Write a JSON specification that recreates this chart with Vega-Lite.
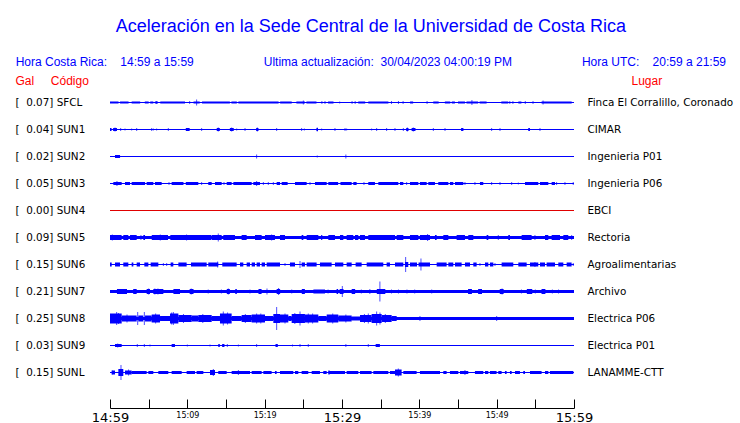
{
  "$schema": "https://vega.github.io/schema/vega-lite/v6.json",
  "autosize": "none",
  "width": 464,
  "height": 297,
  "padding": {"left": 110, "top": 89, "right": 166, "bottom": 37},
  "background": "white",
  "config": {"view": {"stroke": null}},
  "title": {
    "text": "Aceleración en la Sede Central de la Universidad de Costa Rica",
    "subtitle": "Hora Costa Rica:\u00a0\u00a0\u00a0\u00a014:59 a 15:59\u00a0\u00a0\u00a0\u00a0\u00a0\u00a0\u00a0\u00a0\u00a0\u00a0\u00a0\u00a0\u00a0\u00a0\u00a0\u00a0\u00a0\u00a0\u00a0\u00a0\u00a0Ultima actualización:\u00a0\u00a030/04/2023 04:00:19 PM\u00a0\u00a0\u00a0\u00a0\u00a0\u00a0\u00a0\u00a0\u00a0\u00a0\u00a0\u00a0\u00a0\u00a0\u00a0\u00a0\u00a0\u00a0\u00a0\u00a0\u00a0Hora UTC:\u00a0\u00a0\u00a0\u00a020:59 a 21:59",
    "anchor": "middle",
    "frame": "bounds",
    "dx": -3,
    "font": "Liberation Sans",
    "fontSize": 18,
    "fontWeight": "normal",
    "color": "#0000ff",
    "subtitleFont": "Liberation Sans",
    "subtitleFontSize": 12,
    "subtitleColor": "#0000ff",
    "subtitlePadding": 21,
    "offset": 6
  },
  "datasets": {
    "stations": [
      {"s": "SFCL", "L": "[\u00a0\u00a00.07] SFCL", "P": "Finca El Corralillo, Coronado"},
      {"s": "SUN1", "L": "[\u00a0\u00a00.04] SUN1", "P": "CIMAR"},
      {"s": "SUN2", "L": "[\u00a0\u00a00.02] SUN2", "P": "Ingenieria P01"},
      {"s": "SUN3", "L": "[\u00a0\u00a00.05] SUN3", "P": "Ingenieria P06"},
      {"s": "SUN4", "L": "[\u00a0\u00a00.00] SUN4", "P": "EBCI"},
      {"s": "SUN5", "L": "[\u00a0\u00a00.09] SUN5", "P": "Rectoria"},
      {"s": "SUN6", "L": "[\u00a0\u00a00.15] SUN6", "P": "Agroalimentarias"},
      {"s": "SUN7", "L": "[\u00a0\u00a00.21] SUN7", "P": "Archivo"},
      {"s": "SUN8", "L": "[\u00a0\u00a00.25] SUN8", "P": "Electrica P06"},
      {"s": "SUN9", "L": "[\u00a0\u00a00.03] SUN9", "P": "Electrica P01"},
      {"s": "SUNL", "L": "[\u00a0\u00a00.15] SUNL", "P": "LANAMME-CTT"}
    ],
    "seg": [
      {"s":"SFCL","t":0,"u":60,"a":1},{"s":"SUN1","t":0,"u":60,"a":1},{"s":"SUN2","t":0,"u":60,"a":1},{"s":"SUN3","t":0,"u":60,"a":1},{"s":"SUN4","t":0,"u":60,"a":1},{"s":"SUN5","t":0,"u":60,"a":3},{"s":"SUN6","t":0,"u":60,"a":1},{"s":"SUN7","t":0,"u":60,"a":3},{"s":"SUN8","t":0,"u":60,"a":3},{"s":"SUN9","t":0,"u":60,"a":1},{"s":"SUNL","t":0,"u":60,"a":1},
      {"s":"SFCL","t":0,"u":1.1,"a":2},{"s":"SFCL","t":1.3,"u":2.4,"a":2},{"s":"SFCL","t":2.8,"u":3.9,"a":2},{"s":"SFCL","t":4.5,"u":5.0,"a":2},{"s":"SFCL","t":5.2,"u":5.6,"a":2},{"s":"SFCL","t":5.8,"u":6.2,"a":2},{"s":"SFCL","t":6.5,"u":9.7,"a":2},{"s":"SFCL","t":10.8,"u":11.6,"a":2},{"s":"SFCL","t":11.9,"u":15.5,"a":2},{"s":"SFCL","t":15.7,"u":16.4,"a":2},{"s":"SFCL","t":16.6,"u":21.8,"a":2},{"s":"SFCL","t":22.0,"u":23.5,"a":2},{"s":"SFCL","t":24.1,"u":25.2,"a":2},{"s":"SFCL","t":25.4,"u":26.7,"a":2},{"s":"SFCL","t":28.2,"u":28.9,"a":2},{"s":"SFCL","t":32.1,"u":33.0,"a":2},{"s":"SFCL","t":33.4,"u":36.0,"a":2},{"s":"SFCL","t":38.8,"u":39.2,"a":2},{"s":"SFCL","t":41.8,"u":42.5,"a":2},{"s":"SFCL","t":43.3,"u":44.0,"a":2},{"s":"SFCL","t":44.2,"u":44.6,"a":2},{"s":"SFCL","t":45.0,"u":45.9,"a":2},{"s":"SFCL","t":46.1,"u":47.6,"a":2},{"s":"SFCL","t":47.8,"u":48.7,"a":2},{"s":"SFCL","t":50.6,"u":51.5,"a":2},{"s":"SFCL","t":52.8,"u":53.2,"a":2},{"s":"SFCL","t":55.8,"u":59.7,"a":2},
      {"s":"SUN1","t":0,"u":0.2,"a":3},{"s":"SUN1","t":0.4,"u":0.9,"a":3},{"s":"SUN1","t":9.8,"u":10.3,"a":3},{"s":"SUN1","t":13.8,"u":14.2,"a":3},{"s":"SUN1","t":15.5,"u":16.0,"a":3},{"s":"SUN1","t":18.9,"u":19.2,"a":3},{"s":"SUN1","t":26.7,"u":26.9,"a":3},{"s":"SUN1","t":38.3,"u":38.6,"a":3},{"s":"SUN1","t":39.0,"u":39.5,"a":3},{"s":"SUN1","t":45.4,"u":45.7,"a":3},{"s":"SUN1","t":54.1,"u":54.3,"a":3},
      {"s":"SUN2","t":0.65,"u":1.3,"a":3},
      {"s":"SUN3","t":0.43,"u":1.51,"a":3},{"s":"SUN3","t":1.94,"u":2.59,"a":3},{"s":"SUN3","t":2.8,"u":4.53,"a":3},{"s":"SUN3","t":4.74,"u":5.6,"a":3},{"s":"SUN3","t":5.82,"u":6.68,"a":3},{"s":"SUN3","t":7.97,"u":9.5,"a":3},{"s":"SUN3","t":9.8,"u":11.42,"a":3},{"s":"SUN3","t":12.71,"u":13.15,"a":3},{"s":"SUN3","t":13.58,"u":14.44,"a":3},{"s":"SUN3","t":15.09,"u":15.73,"a":3},{"s":"SUN3","t":15.95,"u":18.32,"a":3},{"s":"SUN3","t":18.53,"u":19.4,"a":3},{"s":"SUN3","t":21.55,"u":21.98,"a":3},{"s":"SUN3","t":22.2,"u":22.97,"a":3},{"s":"SUN3","t":23.92,"u":25.43,"a":3},{"s":"SUN3","t":26.51,"u":28.02,"a":3},{"s":"SUN3","t":28.23,"u":29.5,"a":3},{"s":"SUN3","t":29.8,"u":31.25,"a":3},{"s":"SUN3","t":31.46,"u":31.89,"a":3},{"s":"SUN3","t":33.4,"u":34.26,"a":3},{"s":"SUN3","t":34.7,"u":37.28,"a":3},{"s":"SUN3","t":37.5,"u":37.93,"a":3},{"s":"SUN3","t":38.79,"u":39.87,"a":3},{"s":"SUN3","t":40.08,"u":40.95,"a":3},{"s":"SUN3","t":41.16,"u":42.02,"a":3},{"s":"SUN3","t":42.45,"u":43.75,"a":3},{"s":"SUN3","t":43.96,"u":44.39,"a":3},{"s":"SUN3","t":44.61,"u":45.69,"a":3},{"s":"SUN3","t":47.84,"u":48.27,"a":3},{"s":"SUN3","t":53.66,"u":55.38,"a":3},{"s":"SUN3","t":55.6,"u":56.68,"a":3},{"s":"SUN3","t":57.11,"u":57.54,"a":3},
      {"s":"SUN5","t":0,"u":1.5,"a":5},{"s":"SUN5","t":1.72,"u":2.37,"a":5},{"s":"SUN5","t":2.59,"u":3.45,"a":5},{"s":"SUN5","t":4.31,"u":4.53,"a":5},{"s":"SUN5","t":5.4,"u":7.5,"a":5},{"s":"SUN5","t":7.8,"u":13.1,"a":5},{"s":"SUN5","t":13.15,"u":14.44,"a":5},{"s":"SUN5","t":14.65,"u":16.16,"a":5},{"s":"SUN5","t":17.02,"u":17.67,"a":5},{"s":"SUN5","t":18.75,"u":19.61,"a":5},{"s":"SUN5","t":20.04,"u":21.33,"a":5},{"s":"SUN5","t":21.98,"u":22.63,"a":5},{"s":"SUN5","t":24.78,"u":25.0,"a":5},{"s":"SUN5","t":25.43,"u":26.94,"a":5},{"s":"SUN5","t":27.3,"u":27.45,"a":5},{"s":"SUN5","t":28.23,"u":29.09,"a":5},{"s":"SUN5","t":29.74,"u":30.17,"a":5},{"s":"SUN5","t":30.6,"u":31.46,"a":5},{"s":"SUN5","t":31.68,"u":32.11,"a":5},{"s":"SUN5","t":32.33,"u":32.97,"a":5},{"s":"SUN5","t":33.4,"u":36.85,"a":5},{"s":"SUN5","t":37.07,"u":37.93,"a":5},{"s":"SUN5","t":38.79,"u":39.87,"a":5},{"s":"SUN5","t":40.08,"u":41.38,"a":5},{"s":"SUN5","t":42.02,"u":42.24,"a":5},{"s":"SUN5","t":43.1,"u":43.75,"a":5},{"s":"SUN5","t":44.82,"u":45.9,"a":5},{"s":"SUN5","t":46.33,"u":46.98,"a":5},{"s":"SUN5","t":48.7,"u":48.92,"a":5},{"s":"SUN5","t":51.5,"u":51.72,"a":5},{"s":"SUN5","t":53.23,"u":54.52,"a":5},{"s":"SUN5","t":56.25,"u":56.68,"a":5},{"s":"SUN5","t":57.11,"u":58.19,"a":5},{"s":"SUN5","t":58.62,"u":59.26,"a":5},
      {"s":"SUN6","t":0,"u":0.22,"a":4},{"s":"SUN6","t":0.65,"u":1.29,"a":4},{"s":"SUN6","t":1.72,"u":2.37,"a":4},{"s":"SUN6","t":2.8,"u":3.02,"a":4},{"s":"SUN6","t":3.45,"u":3.88,"a":4},{"s":"SUN6","t":4.44,"u":4.96,"a":4},{"s":"SUN6","t":5.26,"u":6.25,"a":4},{"s":"SUN6","t":7.84,"u":8.19,"a":4},{"s":"SUN6","t":8.84,"u":9.91,"a":4},{"s":"SUN6","t":10.47,"u":12.5,"a":4},{"s":"SUN6","t":12.71,"u":14.0,"a":4},{"s":"SUN6","t":14.52,"u":16.38,"a":4},{"s":"SUN6","t":16.81,"u":17.24,"a":4},{"s":"SUN6","t":17.67,"u":18.1,"a":4},{"s":"SUN6","t":18.32,"u":18.75,"a":4},{"s":"SUN6","t":18.96,"u":19.4,"a":4},{"s":"SUN6","t":19.61,"u":20.04,"a":4},{"s":"SUN6","t":20.26,"u":21.98,"a":4},{"s":"SUN6","t":23.27,"u":23.92,"a":4},{"s":"SUN6","t":24.78,"u":25.21,"a":4},{"s":"SUN6","t":25.43,"u":26.72,"a":4},{"s":"SUN6","t":27.15,"u":28.66,"a":4},{"s":"SUN6","t":29.09,"u":30.17,"a":4},{"s":"SUN6","t":30.6,"u":31.25,"a":4},{"s":"SUN6","t":31.76,"u":32.54,"a":4},{"s":"SUN6","t":33.19,"u":35.34,"a":4},{"s":"SUN6","t":35.77,"u":36.2,"a":4},{"s":"SUN6","t":36.85,"u":37.93,"a":4},{"s":"SUN6","t":38.14,"u":38.57,"a":5},{"s":"SUN6","t":38.79,"u":39.7,"a":4},{"s":"SUN6","t":39.9,"u":41.38,"a":4},{"s":"SUN6","t":42.24,"u":43.53,"a":4},{"s":"SUN6","t":43.75,"u":44.39,"a":4},{"s":"SUN6","t":44.61,"u":45.47,"a":4},{"s":"SUN6","t":45.9,"u":46.55,"a":4},{"s":"SUN6","t":46.98,"u":47.41,"a":4},{"s":"SUN6","t":48.49,"u":48.92,"a":4},{"s":"SUN6","t":49.13,"u":49.57,"a":4},{"s":"SUN6","t":50.64,"u":52.15,"a":4},{"s":"SUN6","t":52.8,"u":53.88,"a":4},{"s":"SUN6","t":54.31,"u":55.38,"a":4},{"s":"SUN6","t":55.6,"u":56.25,"a":4},{"s":"SUN6","t":56.46,"u":57.54,"a":4},{"s":"SUN6","t":57.97,"u":58.62,"a":4},{"s":"SUN6","t":59.05,"u":59.69,"a":4},
      {"s":"SUN7","t":0.9,"u":2.2,"a":5},{"s":"SUN7","t":3.0,"u":3.45,"a":5},{"s":"SUN7","t":4.74,"u":5.17,"a":5},{"s":"SUN7","t":5.6,"u":6.9,"a":5},{"s":"SUN7","t":8.2,"u":9.05,"a":5},{"s":"SUN7","t":10.3,"u":10.8,"a":5},{"s":"SUN7","t":15.1,"u":15.5,"a":5},{"s":"SUN7","t":16.2,"u":16.4,"a":5},{"s":"SUN7","t":19.2,"u":19.6,"a":5},{"s":"SUN7","t":21.55,"u":22.0,"a":5},{"s":"SUN7","t":24.8,"u":25.2,"a":5},{"s":"SUN7","t":26.3,"u":27.8,"a":4},{"s":"SUN7","t":29.3,"u":29.5,"a":5},{"s":"SUN7","t":29.7,"u":30.2,"a":5},{"s":"SUN7","t":31.25,"u":31.7,"a":5},{"s":"SUN7","t":34.5,"u":35.6,"a":5},{"s":"SUN7","t":46.3,"u":46.8,"a":5},{"s":"SUN7","t":47.6,"u":48.1,"a":5},{"s":"SUN7","t":50.4,"u":50.9,"a":5},{"s":"SUN7","t":53.9,"u":54.6,"a":5},{"s":"SUN7","t":55.8,"u":56.3,"a":5},
      {"s":"SUN8","t":0,"u":1.51,"a":10},{"s":"SUN8","t":1.51,"u":3.45,"a":6},{"s":"SUN8","t":3.66,"u":4.31,"a":6},{"s":"SUN8","t":4.53,"u":5.39,"a":6},{"s":"SUN8","t":5.39,"u":6.47,"a":8},{"s":"SUN8","t":6.47,"u":7.76,"a":5},{"s":"SUN8","t":7.76,"u":8.84,"a":10},{"s":"SUN8","t":8.84,"u":10.56,"a":7},{"s":"SUN8","t":10.56,"u":11.42,"a":6},{"s":"SUN8","t":11.42,"u":13.15,"a":7},{"s":"SUN8","t":13.15,"u":14.22,"a":5},{"s":"SUN8","t":14.22,"u":15.73,"a":10},{"s":"SUN8","t":15.73,"u":17.02,"a":5},{"s":"SUN8","t":17.02,"u":18.32,"a":7},{"s":"SUN8","t":18.32,"u":20.04,"a":8},{"s":"SUN8","t":20.04,"u":21.12,"a":5},{"s":"SUN8","t":21.12,"u":21.98,"a":9},{"s":"SUN8","t":21.98,"u":23.06,"a":8},{"s":"SUN8","t":23.06,"u":23.49,"a":5},{"s":"SUN8","t":23.49,"u":25.21,"a":9},{"s":"SUN8","t":25.21,"u":26.94,"a":8},{"s":"SUN8","t":26.94,"u":28.02,"a":5},{"s":"SUN8","t":28.02,"u":29.52,"a":8},{"s":"SUN8","t":29.52,"u":31.25,"a":6},{"s":"SUN8","t":31.25,"u":32.33,"a":4},{"s":"SUN8","t":32.33,"u":33.83,"a":7},{"s":"SUN8","t":33.83,"u":35.13,"a":9},{"s":"SUN8","t":35.13,"u":36.42,"a":7},{"s":"SUN8","t":36.42,"u":37.07,"a":5},
      {"s":"SUN9","t":0.65,"u":1.51,"a":3},{"s":"SUN9","t":7.97,"u":8.4,"a":3},{"s":"SUN9","t":14.0,"u":14.2,"a":3},{"s":"SUN9","t":14.5,"u":14.8,"a":3},{"s":"SUN9","t":21.4,"u":21.7,"a":3},{"s":"SUN9","t":34.35,"u":34.9,"a":3},
      {"s":"SUNL","t":0.22,"u":0.65,"a":4},{"s":"SUNL","t":1.08,"u":1.72,"a":7},{"s":"SUNL","t":1.94,"u":2.8,"a":4},{"s":"SUNL","t":2.8,"u":4.74,"a":3},{"s":"SUNL","t":4.96,"u":5.6,"a":3},{"s":"SUNL","t":6.25,"u":7.54,"a":3},{"s":"SUNL","t":7.97,"u":9.27,"a":3},{"s":"SUNL","t":9.91,"u":10.99,"a":3},{"s":"SUNL","t":11.2,"u":12.07,"a":3},{"s":"SUNL","t":12.93,"u":13.58,"a":5},{"s":"SUNL","t":14.0,"u":15.09,"a":3},{"s":"SUNL","t":15.73,"u":18.1,"a":3},{"s":"SUNL","t":18.32,"u":19.61,"a":3},{"s":"SUNL","t":19.83,"u":20.9,"a":3},{"s":"SUNL","t":21.33,"u":21.55,"a":3},{"s":"SUNL","t":21.98,"u":23.7,"a":3},{"s":"SUNL","t":23.92,"u":24.35,"a":3},{"s":"SUNL","t":24.78,"u":25.64,"a":3},{"s":"SUNL","t":26.08,"u":27.15,"a":3},{"s":"SUNL","t":27.58,"u":28.02,"a":3},{"s":"SUNL","t":28.23,"u":30.39,"a":3},{"s":"SUNL","t":30.6,"u":32.11,"a":3},{"s":"SUNL","t":32.33,"u":33.83,"a":3},{"s":"SUNL","t":34.05,"u":35.99,"a":3},{"s":"SUNL","t":36.2,"u":36.85,"a":3},{"s":"SUNL","t":36.85,"u":37.71,"a":6},{"s":"SUNL","t":37.93,"u":39.65,"a":3},{"s":"SUNL","t":40.08,"u":42.67,"a":3},{"s":"SUNL","t":43.1,"u":43.53,"a":3},{"s":"SUNL","t":43.96,"u":45.04,"a":3},{"s":"SUNL","t":45.26,"u":46.33,"a":3},{"s":"SUNL","t":47.19,"u":48.27,"a":3},{"s":"SUNL","t":48.49,"u":48.92,"a":3},{"s":"SUNL","t":49.13,"u":49.99,"a":3},{"s":"SUNL","t":50.21,"u":50.64,"a":3},{"s":"SUNL","t":51.07,"u":51.29,"a":3},{"s":"SUNL","t":51.72,"u":51.94,"a":3},{"s":"SUNL","t":52.37,"u":53.01,"a":3},{"s":"SUNL","t":53.44,"u":53.66,"a":3},{"s":"SUNL","t":54.31,"u":55.81,"a":3},{"s":"SUNL","t":56.25,"u":56.68,"a":3},{"s":"SUNL","t":56.89,"u":59.91,"a":3}
    ],
    "spk": [
      {"s":"SFCL","t":11.2,"a":6},{"s":"SFCL","t":46.8,"a":5},{"s":"SFCL","t":56.0,"a":4},{"s":"SFCL","t":10.3,"a":3},{"s":"SFCL","t":27.4,"a":3},{"s":"SFCL","t":27.8,"a":3},{"s":"SFCL","t":29.7,"a":2},{"s":"SFCL","t":31.3,"a":3},{"s":"SFCL","t":31.7,"a":3},{"s":"SFCL","t":36.4,"a":3},{"s":"SFCL","t":37.3,"a":3},{"s":"SFCL","t":37.9,"a":3},{"s":"SFCL","t":41.0,"a":3},{"s":"SFCL","t":52.1,"a":3},{"s":"SFCL","t":51.7,"a":3},{"s":"SFCL","t":53.7,"a":3},{"s":"SFCL","t":54.7,"a":3},{"s":"SFCL","t":25.0,"a":4},{"s":"SFCL","t":6.0,"a":3},
      {"s":"SUN1","t":0.65,"a":4},{"s":"SUN1","t":1.38,"a":3},{"s":"SUN1","t":1.94,"a":2},{"s":"SUN1","t":2.8,"a":2},{"s":"SUN1","t":3.45,"a":3},{"s":"SUN1","t":5.39,"a":3},{"s":"SUN1","t":5.6,"a":2},{"s":"SUN1","t":6.03,"a":2},{"s":"SUN1","t":7.54,"a":3},{"s":"SUN1","t":11.85,"a":3},{"s":"SUN1","t":14.0,"a":4},{"s":"SUN1","t":15.73,"a":4},{"s":"SUN1","t":16.38,"a":2},{"s":"SUN1","t":17.46,"a":3},{"s":"SUN1","t":19.05,"a":4},{"s":"SUN1","t":21.55,"a":3},{"s":"SUN1","t":24.78,"a":3},{"s":"SUN1","t":25.13,"a":2},{"s":"SUN1","t":26.8,"a":4},{"s":"SUN1","t":27.37,"a":2},{"s":"SUN1","t":29.09,"a":3},{"s":"SUN1","t":30.39,"a":3},{"s":"SUN1","t":30.6,"a":2},{"s":"SUN1","t":33.83,"a":2},{"s":"SUN1","t":34.48,"a":3},{"s":"SUN1","t":35.77,"a":3},{"s":"SUN1","t":36.85,"a":3},{"s":"SUN1","t":37.93,"a":3},{"s":"SUN1","t":38.45,"a":4},{"s":"SUN1","t":39.22,"a":4},{"s":"SUN1","t":41.81,"a":3},{"s":"SUN1","t":43.32,"a":3},{"s":"SUN1","t":45.56,"a":3},{"s":"SUN1","t":49.35,"a":3},{"s":"SUN1","t":50.43,"a":3},{"s":"SUN1","t":54.18,"a":3},{"s":"SUN1","t":55.6,"a":3},
      {"s":"SUN2","t":18.96,"a":4},{"s":"SUN2","t":26.8,"a":2},{"s":"SUN2","t":30.5,"a":4},
      {"s":"SUN3","t":0.9,"a":5},{"s":"SUN3","t":18.96,"a":5},{"s":"SUN3","t":7.63,"a":3},{"s":"SUN3","t":11.85,"a":3},{"s":"SUN3","t":14.74,"a":3},{"s":"SUN3","t":19.83,"a":3},{"s":"SUN3","t":20.47,"a":3},{"s":"SUN3","t":21.12,"a":3},{"s":"SUN3","t":25.86,"a":3},{"s":"SUN3","t":32.84,"a":3},{"s":"SUN3","t":38.36,"a":3},{"s":"SUN3","t":45.9,"a":3},{"s":"SUN3","t":47.19,"a":3},{"s":"SUN3","t":49.35,"a":3},{"s":"SUN3","t":50.43,"a":3},{"s":"SUN3","t":51.94,"a":3},{"s":"SUN3","t":52.8,"a":2},{"s":"SUN3","t":57.75,"a":3},{"s":"SUN3","t":58.83,"a":3},{"s":"SUN3","t":59.9,"a":3},
      {"s":"SUN5","t":14.0,"a":8},{"s":"SUN5","t":20.9,"a":6},{"s":"SUN5","t":41.07,"a":7},{"s":"SUN5","t":6.5,"a":6},{"s":"SUN5","t":9.9,"a":6},{"s":"SUN5","t":50.21,"a":5},{"s":"SUN5","t":54.95,"a":5},{"s":"SUN5","t":59.7,"a":5},{"s":"SUN5","t":0.3,"a":6},{"s":"SUN5","t":4.0,"a":5},
      {"s":"SUN6","t":6.9,"a":3},{"s":"SUN6","t":7.33,"a":3},{"s":"SUN6","t":13.92,"a":6},{"s":"SUN6","t":22.63,"a":3},{"s":"SUN6","t":24.57,"a":7},{"s":"SUN6","t":38.23,"a":15},{"s":"SUN6","t":40.21,"a":12},{"s":"SUN6","t":47.84,"a":3},{"s":"SUN6","t":49.78,"a":3},{"s":"SUN6","t":54.95,"a":5},{"s":"SUN6","t":59.9,"a":3},
      {"s":"SUN7","t":5.0,"a":6},{"s":"SUN7","t":5.8,"a":6},{"s":"SUN7","t":6.2,"a":6},{"s":"SUN7","t":10.5,"a":6},{"s":"SUN7","t":12.7,"a":4},{"s":"SUN7","t":14.4,"a":4},{"s":"SUN7","t":15.3,"a":6},{"s":"SUN7","t":18.1,"a":4},{"s":"SUN7","t":20.3,"a":6},{"s":"SUN7","t":21.8,"a":7},{"s":"SUN7","t":23.5,"a":4},{"s":"SUN7","t":28.2,"a":4},{"s":"SUN7","t":30.04,"a":11},{"s":"SUN7","t":31.5,"a":5},{"s":"SUN7","t":32.5,"a":4},{"s":"SUN7","t":33.6,"a":5},{"s":"SUN7","t":34.9,"a":20},{"s":"SUN7","t":36.4,"a":4},{"s":"SUN7","t":37.3,"a":4},{"s":"SUN7","t":38.4,"a":4},{"s":"SUN7","t":39.4,"a":4},{"s":"SUN7","t":41.6,"a":4},{"s":"SUN7","t":46.6,"a":5},{"s":"SUN7","t":50.7,"a":6},{"s":"SUN7","t":53.2,"a":4},{"s":"SUN7","t":54.2,"a":5},{"s":"SUN7","t":55.0,"a":4},{"s":"SUN7","t":57.2,"a":4},{"s":"SUN7","t":58.0,"a":4},
      {"s":"SUN8","t":0.86,"a":13},{"s":"SUN8","t":3.58,"a":13},{"s":"SUN8","t":4.44,"a":13},{"s":"SUN8","t":7.97,"a":12},{"s":"SUN8","t":8.19,"a":13},{"s":"SUN8","t":14.65,"a":14},{"s":"SUN8","t":18.96,"a":10},{"s":"SUN8","t":21.55,"a":23},{"s":"SUN8","t":22.63,"a":10},{"s":"SUN8","t":24.57,"a":14},{"s":"SUN8","t":25.64,"a":10},{"s":"SUN8","t":33.4,"a":10},{"s":"SUN8","t":34.48,"a":14},{"s":"SUN8","t":34.91,"a":12},{"s":"SUN8","t":40.08,"a":5},{"s":"SUN8","t":50.0,"a":5},{"s":"SUN8","t":1.1,"a":11},{"s":"SUN8","t":2.2,"a":8},{"s":"SUN8","t":5.9,"a":10},{"s":"SUN8","t":9.5,"a":9},{"s":"SUN8","t":12.0,"a":9},{"s":"SUN8","t":15.2,"a":12},{"s":"SUN8","t":17.5,"a":9},{"s":"SUN8","t":19.5,"a":10},{"s":"SUN8","t":23.9,"a":11},{"s":"SUN8","t":26.2,"a":10},{"s":"SUN8","t":28.8,"a":10},{"s":"SUN8","t":30.5,"a":8},{"s":"SUN8","t":32.9,"a":9},{"s":"SUN8","t":35.6,"a":9},
      {"s":"SUN9","t":1.0,"a":4},{"s":"SUN9","t":3.53,"a":3},{"s":"SUN9","t":4.44,"a":3},{"s":"SUN9","t":5.17,"a":2},{"s":"SUN9","t":10.0,"a":2},{"s":"SUN9","t":12.93,"a":2},{"s":"SUN9","t":15.17,"a":3},{"s":"SUN9","t":16.6,"a":2},{"s":"SUN9","t":18.96,"a":3},{"s":"SUN9","t":23.6,"a":2},{"s":"SUN9","t":24.57,"a":3},{"s":"SUN9","t":25.64,"a":3},{"s":"SUN9","t":30.5,"a":3},{"s":"SUN9","t":33.4,"a":3},
      {"s":"SUNL","t":1.42,"a":15},{"s":"SUNL","t":13.36,"a":7},{"s":"SUNL","t":16.6,"a":5},{"s":"SUNL","t":28.32,"a":5},{"s":"SUNL","t":37.28,"a":8},{"s":"SUNL","t":45.9,"a":5},{"s":"SUNL","t":2.4,"a":6},{"s":"SUNL","t":0.3,"a":4}
    ]
  },
  "encoding": {
    "x": {
      "field": "t", "type": "quantitative",
      "scale": {"domain": [0, 60], "nice": false, "zero": false},
      "axis": {
        "title": null, "grid": false,
        "values": [0, 5, 10, 15, 20, 25, 30, 35, 40, 45, 50, 55, 60],
        "labelExpr": "datum.value === 0 ? '14:59' : datum.value === 10 ? '15:09' : datum.value === 20 ? '15:19' : datum.value === 30 ? '15:29' : datum.value === 40 ? '15:39' : datum.value === 50 ? '15:49' : datum.value === 60 ? '15:59' : ''",
        "labelFontSize": {"condition": {"test": "datum.value % 30 === 0", "value": 13}, "value": 8},
        "labelFont": "DejaVu Sans", "labelColor": "black",
        "labelFlush": false, "labelOverlap": false,
        "domainColor": "black", "tickColor": "black",
        "tickSize": -9, "labelPadding": 12, "offset": 22
      }
    },
    "size": {"field": "a", "type": "quantitative", "scale": {"domain": [0, 30], "range": [0, 30], "zero": true}, "legend": null},
    "color": {"condition": {"test": "datum.s === 'SUN4'", "value": "#e00000"}, "value": "#0000ff"}
  },
  "layer": [
    {
      "data": {"name": "seg"},
      "transform": [{"lookup": "s", "from": {"data": {"name": "stations"}, "key": "s", "fields": ["L", "P"]}}],
      "mark": {"type": "bar", "cornerRadius": 0},
      "encoding": {
        "x2": {"field": "u"},
        "y": {
          "field": "L", "type": "nominal",
          "scale": {"domain": ["[\u00a0\u00a00.07] SFCL", "[\u00a0\u00a00.04] SUN1", "[\u00a0\u00a00.02] SUN2", "[\u00a0\u00a00.05] SUN3", "[\u00a0\u00a00.00] SUN4", "[\u00a0\u00a00.09] SUN5", "[\u00a0\u00a00.15] SUN6", "[\u00a0\u00a00.21] SUN7", "[\u00a0\u00a00.25] SUN8", "[\u00a0\u00a00.03] SUN9", "[\u00a0\u00a00.15] SUNL"], "paddingInner": 0, "paddingOuter": 0},
          "axis": {
            "orient": "left", "domain": false, "ticks": false,
            "labelAlign": "left", "labelPadding": 95, "labelBaseline": "middle",
            "labelFont": "DejaVu Sans", "labelFontSize": 10.4, "labelColor": "black",
            "title": "Gal\u00a0\u00a0\u00a0\u00a0\u00a0Código", "titleAngle": 0, "titleX": -95, "titleY": -5,
            "titleAlign": "left", "titleBaseline": "alphabetic",
            "titleFont": "Liberation Sans", "titleFontSize": 12, "titleFontWeight": "normal", "titleColor": "#ff0000"
          }
        }
      }
    },
    {
      "data": {"name": "spk"},
      "transform": [{"lookup": "s", "from": {"data": {"name": "stations"}, "key": "s", "fields": ["L", "P"]}}],
      "mark": {"type": "tick", "thickness": 1, "orient": "vertical"},
      "encoding": {
        "y": {
          "field": "P", "type": "nominal",
          "scale": {"domain": ["Finca El Corralillo, Coronado", "CIMAR", "Ingenieria P01", "Ingenieria P06", "EBCI", "Rectoria", "Agroalimentarias", "Archivo", "Electrica P06", "Electrica P01", "LANAMME-CTT"], "paddingInner": 0, "paddingOuter": 0},
          "axis": {
            "orient": "right", "domain": false, "ticks": false,
            "labelAlign": "left", "labelPadding": 13, "labelBaseline": "middle",
            "labelFont": "DejaVu Sans", "labelFontSize": 10.4, "labelColor": "black",
            "title": "Lugar", "titleAngle": 0, "titleX": 57, "titleY": -5,
            "titleAlign": "left", "titleBaseline": "alphabetic",
            "titleFont": "Liberation Sans", "titleFontSize": 12, "titleFontWeight": "normal", "titleColor": "#ff0000"
          }
        }
      }
    }
  ],
  "resolve": {"scale": {"y": "independent"}, "axis": {"y": "independent"}}
}
